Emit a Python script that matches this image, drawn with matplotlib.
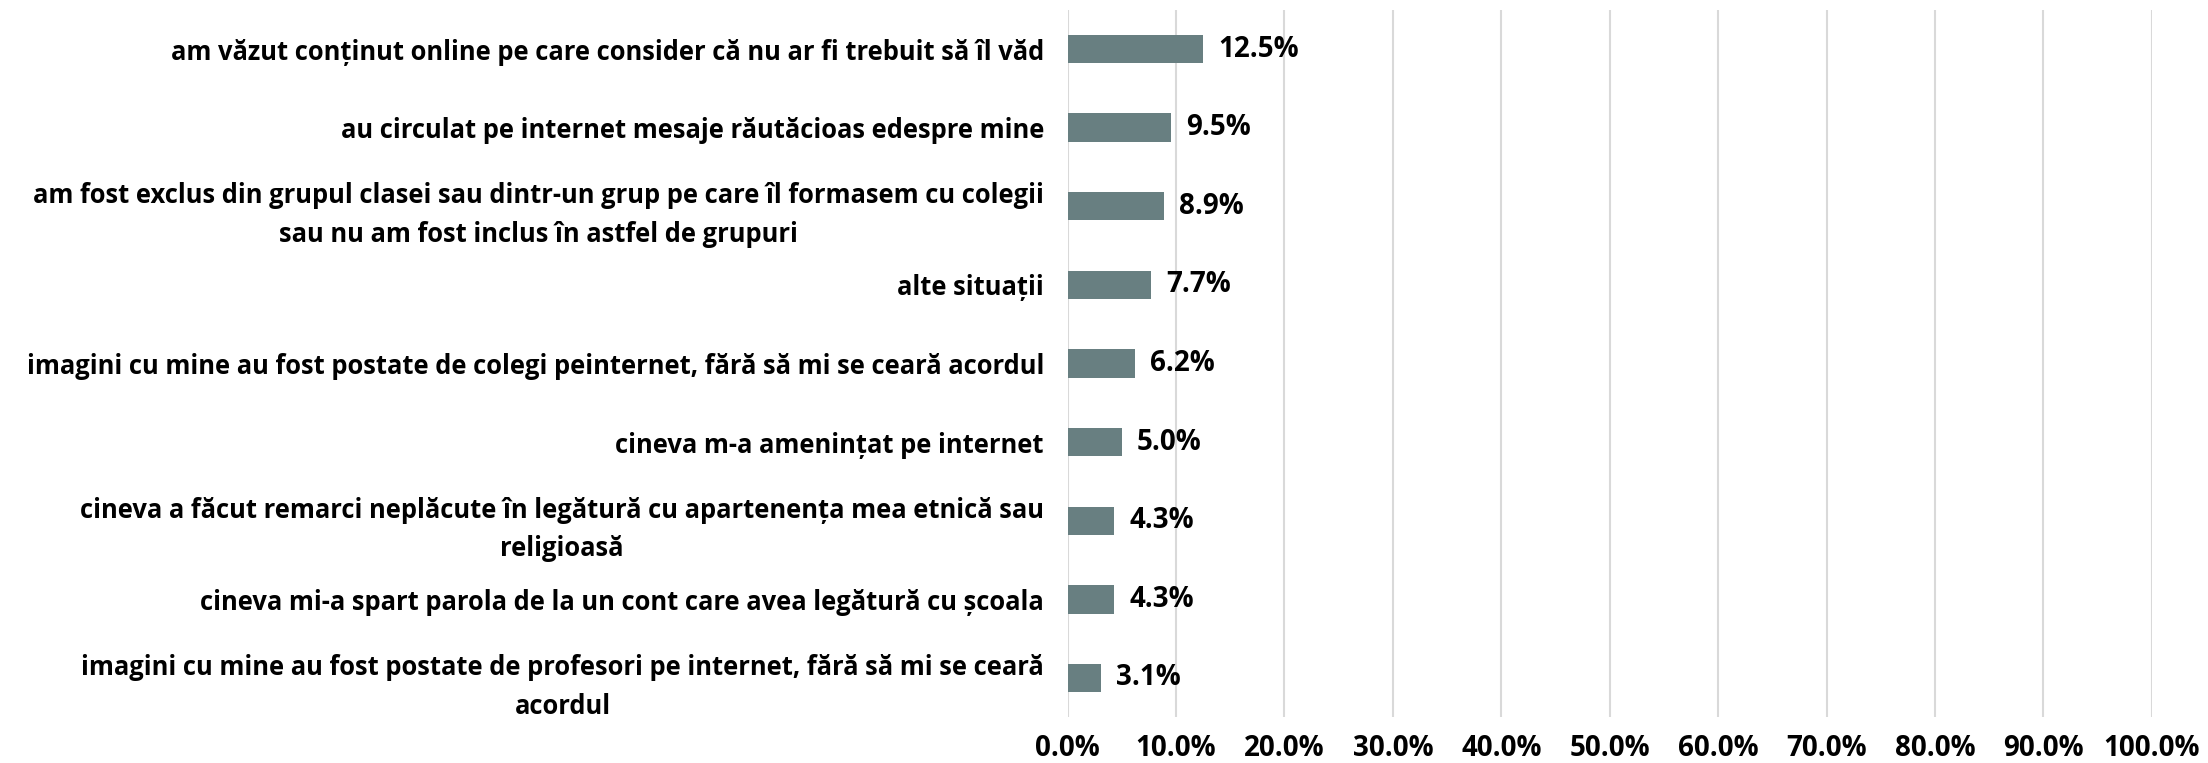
import matplotlib
matplotlib.use("Agg")
import matplotlib.pyplot as plt
from matplotlib.ticker import FuncFormatter

categories = [
    "am văzut conținut online pe care consider că nu ar fi trebuit să îl văd",
    "au circulat pe internet mesaje răutăcioas edespre mine",
    "am fost exclus din grupul clasei sau dintr-un grup pe care îl formasem cu colegii\nsau nu am fost inclus în astfel de grupuri",
    "alte situații",
    "imagini cu mine au fost postate de colegi peinternet, fără să mi se ceară acordul",
    "cineva m-a amenințat pe internet",
    "cineva a făcut remarci neplăcute în legătură cu apartenența mea etnică sau\nreligioasă",
    "cineva mi-a spart parola de la un cont care avea legătură cu școala",
    "imagini cu mine au fost postate de profesori pe internet, fără să mi se ceară\nacordul",
]
values = [12.5, 9.5, 8.9, 7.7, 6.2, 5.0, 4.3, 4.3, 3.1]
xticks = [0, 10, 20, 30, 40, 50, 60, 70, 80, 90, 100]

plt.rcParams['font.family'] = ['Open Sans', 'DejaVu Sans']
plt.rcParams['font.weight'] = 'bold'

FS_CAT = 18.4
FS_NUM = 20

fig = plt.figure(figsize=(22.08, 7.63), dpi=100)
ax = fig.add_axes([0.4835, 0.0599, 0.9746 - 0.4835, 0.9873 - 0.0599])

y = list(range(len(categories)))
ax.barh(y, values, height=0.36, color='#687F81', zorder=3)
for yi, v in zip(y, values):
    ax.annotate(f"{v:.1f}%", xy=(v, yi), xytext=(11, 0), textcoords='offset points',
                ha='left', va='center', fontsize=FS_NUM, fontweight='bold', color='black')

ax.set_xlim(0, 100)
ax.set_ylim(len(categories) - 0.5, -0.5)
ax.set_xticks(xticks)
ax.xaxis.set_major_formatter(FuncFormatter(lambda x, p: f"{x:.1f}%"))
ax.set_yticks(y)
ax.set_yticklabels(categories, multialignment='center')
ax.tick_params(axis='y', length=0, pad=17, labelsize=FS_CAT)
ax.tick_params(axis='x', length=0, pad=12, labelsize=FS_NUM)
for lab in ax.get_yticklabels():
    lab.set_fontweight('bold')
    lab.set_linespacing(1.55)
for lab in ax.get_xticklabels():
    lab.set_fontweight('bold')
ax.grid(axis='x', color='#D9D9D9', linewidth=1.5, zorder=0)
for s in ax.spines.values():
    s.set_visible(False)

fig.savefig("out.png", dpi=100, facecolor='white')
